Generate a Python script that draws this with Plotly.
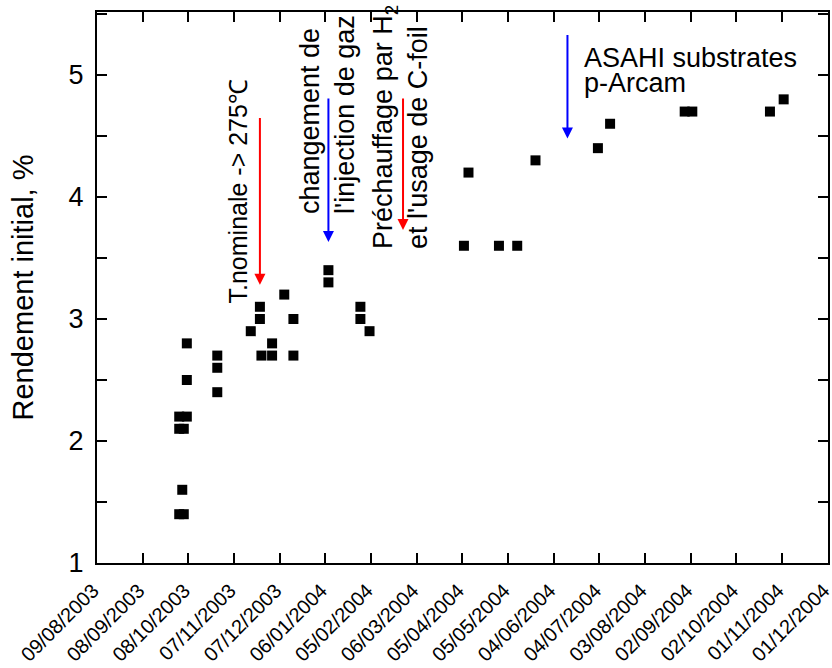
import plotly.graph_objects as go

# ---- data ----
dates = [
    "2003-10-02", "2003-10-05", "2003-10-04", "2003-10-02", "2003-10-05",
    "2003-10-02", "2003-10-07", "2003-10-07", "2003-10-07",
    "2003-10-27", "2003-10-27", "2003-10-27",
    "2003-11-18", "2003-11-24", "2003-11-24", "2003-11-25",
    "2003-12-02", "2003-12-02", "2003-12-10", "2003-12-16", "2003-12-16",
    "2004-01-08", "2004-01-08", "2004-01-29", "2004-01-29", "2004-02-04",
    "2004-04-06", "2004-04-09", "2004-04-29", "2004-05-11", "2004-05-23",
    "2004-07-03", "2004-07-11", "2004-08-29", "2004-09-03",
    "2004-10-24", "2004-11-02",
]
rendement = [
    1.4, 1.4, 1.6, 2.1, 2.1,
    2.2, 2.2, 2.5, 2.8,
    2.7, 2.6, 2.4,
    2.9, 3.1, 3.0, 2.7,
    2.7, 2.8, 3.2, 3.0, 2.7,
    3.4, 3.3, 3.1, 3.0, 2.9,
    3.6, 4.2, 3.6, 3.6, 4.3,
    4.4, 4.6, 4.7, 4.7,
    4.7, 4.8,
]

x_tick_dates = [
    "2003-08-09", "2003-09-08", "2003-10-08", "2003-11-07", "2003-12-07",
    "2004-01-06", "2004-02-05", "2004-03-06", "2004-04-05", "2004-05-05",
    "2004-06-04", "2004-07-04", "2004-08-03", "2004-09-02", "2004-10-02",
    "2004-11-01", "2004-12-01",
]
x_tick_labels = [
    "09/08/2003", "08/09/2003", "08/10/2003", "07/11/2003", "07/12/2003",
    "06/01/2004", "05/02/2004", "06/03/2004", "05/04/2004", "05/05/2004",
    "04/06/2004", "04/07/2004", "03/08/2004", "02/09/2004", "02/10/2004",
    "01/11/2004", "01/12/2004",
]
y_tick_vals = [1, 1.5, 2, 2.5, 3, 3.5, 4, 4.5, 5, 5.5]
y_tick_labels = ["1", "", "2", "", "3", "", "4", "", "5", ""]

# event arrows: (date, tail value, tip value, colour)
arrow_dates = ["2003-11-24", "2004-01-08", "2004-02-26", "2004-06-13"]
arrow_tail = [4.66, 4.82, 4.82, 5.34]
arrow_tip = [3.28, 3.63, 3.73, 4.48]
arrow_colors = ["#ff0000", "#0000ff", "#ff0000", "#0000ff"]

FONT = "Liberation Sans, Arial, Helvetica, sans-serif"

fig = go.Figure()
fig.add_trace(go.Scatter(
    x=dates, y=rendement, mode="markers",
    marker=dict(symbol="square", size=10, color="black", line=dict(width=0)),
    showlegend=False, cliponaxis=False,
))

# geometry helpers for text placement (pixel -> paper)
L, R, T, B = 97, 4, 12, 105
W, H = 832, 668
PW, PH = W - L - R, H - T - B


def px(xp):
    return (xp - L) / PW


def py(yp):
    return (H - B - yp) / PH


for d, a0, a1, c in zip(arrow_dates, arrow_tail, arrow_tip, arrow_colors):
    fig.add_annotation(
        x=d, y=a1, ax=d, ay=a0, xref="x", yref="y", axref="x", ayref="y",
        text="", showarrow=True, arrowhead=2, arrowsize=1.1, arrowwidth=2,
        arrowcolor=c, standoff=0, startstandoff=0,
    )

ann_font = dict(family=FONT, size=27, color="black")
fig.add_annotation(
    x=px(237), y=py(191.5), xref="paper", yref="paper",
    text="T.nominale -> 275℃", textangle=-90, showarrow=False,
    xanchor="center", yanchor="middle", font=dict(family=FONT, size=25, color="black"),
)
fig.add_annotation(
    x=px(328), y=py(115), xref="paper", yref="paper",
    text="changement de<br>l'injection de gaz", textangle=-90, showarrow=False,
    align="left", xanchor="center", yanchor="middle", font=ann_font,
)
fig.add_annotation(
    x=px(401), y=py(127), xref="paper", yref="paper",
    text="Préchauffage par H<sub>2</sub><br>et l'usage de C-foil", textangle=-90,
    showarrow=False, align="left", xanchor="center", yanchor="middle", font=ann_font,
)
fig.add_annotation(
    x=px(582), y=py(58), xref="paper", yref="paper",
    text="ASAHI substrates", showarrow=False,
    xanchor="left", yanchor="middle", font=ann_font,
)
fig.add_annotation(
    x=px(582), y=py(83), xref="paper", yref="paper",
    text="p-Arcam", showarrow=False,
    xanchor="left", yanchor="middle", font=ann_font,
)

axis_common = dict(
    showline=True, linecolor="black", linewidth=2, mirror="ticks",
    ticks="inside", ticklen=10, tickwidth=1.5, tickcolor="black",
    showgrid=False, zeroline=False, automargin=False,
)
fig.update_xaxes(
    type="date", range=["2003-08-09", "2004-12-01 03:00"],
    tickvals=x_tick_dates, ticktext=x_tick_labels, tickangle=-45,
    tickfont=dict(family=FONT, size=20, color="black"),
    ticklabelstandoff=6, ticklabelshift=-4, ticklabeloverflow="allow",
    **axis_common,
)
fig.update_yaxes(
    range=[1, 5.516], tickvals=y_tick_vals, ticktext=y_tick_labels,
    tickfont=dict(family=FONT, size=27, color="black"),
    title=dict(text="Rendement initial, %", font=dict(family=FONT, size=29, color="black"),
               standoff=26),
    ticklabelstandoff=6,
    **axis_common,
)
fig.update_layout(
    width=W, height=H,
    margin=dict(l=L, r=R, t=T, b=B, pad=0),
    plot_bgcolor="white", paper_bgcolor="white",
    font=dict(family=FONT, color="black"),
)

fig.write_html("out.html", config={"displayModeBar": False},
               post_script="document.body.style.margin='0';")
